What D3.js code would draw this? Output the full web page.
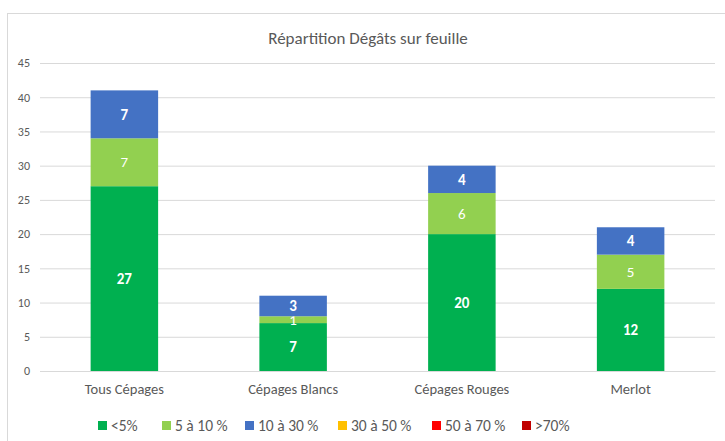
<!DOCTYPE html>
<html>
<head>
<meta charset="utf-8">
<script src="https://cdn.jsdelivr.net/npm/d3@7"></script>
<style>
  body { margin: 0; background: #fff; }
  svg text { font-family: Calibri, Carlito, "Open Sans", sans-serif; }
</style>
</head>
<body>
<div id="chart"></div>
<script>
var categories = ["Tous Cépages", "Cépages Blancs", "Cépages Rouges", "Merlot"];
var seriesNames = ["<5%", "5 à 10 %", "10 à 30 %", "30 à 50 %", "50 à 70 %", ">70%"];
var seriesColors = ["#00B050", "#92D050", "#4472C4", "#FFC000", "#FF0000", "#C00000"];
var under5 = [27, 7, 20, 12];
var from5to10 = [7, 1, 6, 5];
var from10to30 = [7, 3, 4, 4];
var from30to50 = [0, 0, 0, 0];
var from50to70 = [0, 0, 0, 0];
var over70 = [0, 0, 0, 0];
var yTicks = [0, 5, 10, 15, 20, 25, 30, 35, 40, 45];

var svgWidth = 725, svgHeight = 441;
var margin = { top: 63, right: 10, bottom: 70, left: 40 };
var width = 715 - margin.left;
var height = 371 - margin.top;

var svg = d3.select("#chart").append("svg")
  .attr("width", svgWidth)
  .attr("height", svgHeight);

// chart frame
svg.append("rect")
  .attr("x", 7.5).attr("y", 13.5)
  .attr("width", 730).attr("height", 440)
  .attr("fill", "none").attr("stroke", "#d9d9d9");

svg.append("text")
  .attr("x", 368).attr("y", 44)
  .attr("text-anchor", "middle")
  .attr("fill", "#595959")
  .style("font-size", "17px")
  .text("Répartition Dégâts sur feuille");

var chartGroup = svg.append("g")
  .attr("transform", `translate(${margin.left}, ${margin.top})`);

var allSeries = [under5, from5to10, from10to30, from30to50, from50to70, over70];
var table = categories.map(function (c, i) {
  var row = { cat: c };
  seriesNames.forEach(function (s, j) { row[s] = allSeries[j][i]; });
  return row;
});

var stacked = d3.stack().keys(seriesNames)(table);

var x = d3.scaleBand().domain(categories).range([0, width]).paddingInner(0.6).paddingOuter(0.3);
var y = d3.scaleLinear().domain([0, 45]).range([height, 0]);

// gridlines
chartGroup.append("g")
  .call(d3.axisLeft(y).tickValues(yTicks).tickSize(-width).tickFormat(""))
  .call(g => g.select(".domain").remove())
  .selectAll("line").attr("stroke", "#d9d9d9");

// y tick labels
chartGroup.append("g")
  .call(d3.axisLeft(y).tickValues(yTicks).tickSize(0).tickPadding(10))
  .call(g => g.select(".domain").remove())
  .selectAll("text")
  .attr("fill", "#595959")
  .style("font-size", "12px");

var layers = chartGroup.selectAll(".layer")
  .data(stacked)
  .enter().append("g")
  .attr("fill", (d, i) => seriesColors[i]);

layers.selectAll("rect")
  .data(d => d)
  .enter().append("rect")
  .attr("x", d => x(d.data.cat))
  .attr("y", d => y(d[1]))
  .attr("height", d => y(d[0]) - y(d[1]))
  .attr("width", x.bandwidth());

// value labels
layers.each(function (s, i) {
  d3.select(this).selectAll("text")
    .data(s.filter(d => d[1] - d[0] > 0))
    .enter().append("text")
    .attr("x", d => x(d.data.cat) + x.bandwidth() / 2)
    .attr("y", d => (y(d[0]) + y(d[1])) / 2)
    .attr("dy", "0.35em")
    .attr("text-anchor", "middle")
    .attr("fill", "#ffffff")
    .style("font-size", "15px")
    .style("font-weight", i === 1 ? "normal" : "bold")
    .text(d => d[1] - d[0]);
});

// x axis
var xAxis = chartGroup.append("g")
  .attr("transform", `translate(0,${height})`)
  .call(d3.axisBottom(x).tickSize(0).tickPadding(13));
xAxis.select(".domain").attr("stroke", "#d9d9d9");
xAxis.selectAll("text")
  .attr("fill", "#595959")
  .style("font-size", "14.5px");

// legend
var legendX = [98, 162, 245, 338, 432, 522];
var legend = svg.append("g");
seriesNames.forEach(function (s, i) {
  legend.append("rect")
    .attr("x", legendX[i]).attr("y", 421)
    .attr("width", 9).attr("height", 9)
    .attr("fill", seriesColors[i]);
  legend.append("text")
    .attr("x", legendX[i] + 13).attr("y", 426)
    .attr("dy", "0.35em")
    .attr("fill", "#595959")
    .style("font-size", "15.5px")
    .text(s);
});
</script>
</body>
</html>
